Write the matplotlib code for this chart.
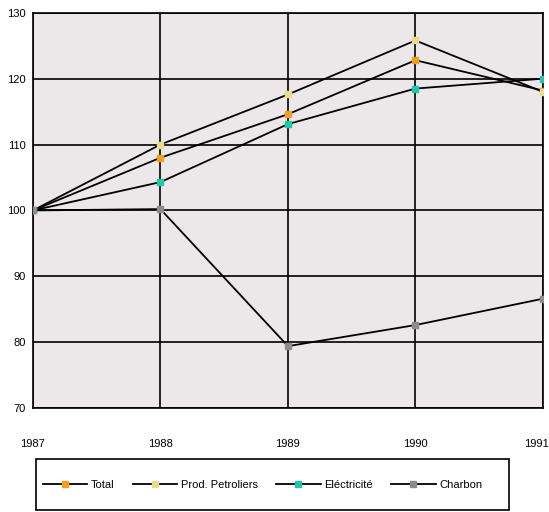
import matplotlib
matplotlib.use("Agg")
import matplotlib.pyplot as plt
import matplotlib.transforms as mtransforms
from matplotlib.patches import Rectangle

years = [1987, 1988, 1989, 1990, 1991]
total = [100, 108, 114.6, 122.8, 118.2]
prod_petroliers = [100, 110, 117.6, 125.8, 118.0]
electricite = [100, 104.3, 113.1, 118.5, 120.0]
charbon = [100, 100.2, 79.4, 82.6, 86.6]
series_names = ["Total", "Prod. Petroliers", "Eléctricité", "Charbon"]
yticks = [70, 80, 90, 100, 110, 120, 130]

plt.rcParams['font.family'] = ['Liberation Sans', 'DejaVu Sans']

fig = plt.figure(figsize=(5.49, 5.12), dpi=100)
ax = fig.add_axes([0.060, 0.203, 0.929, 0.772])
ax.set_facecolor('#ece8e9')

colors = ['#f0a020', '#e8dc90', '#20c8a8', '#8c8c8c']
data = [total, prod_petroliers, electricite, charbon]
for vals, name, c in zip(data, series_names, colors):
    ax.plot(years, vals, color='black', lw=1.3, marker='s', markersize=5,
            markerfacecolor=c, markeredgecolor=c, label=name, zorder=3)

ax.set_xlim(1987, 1991)
ax.set_ylim(70, 130)
ax.set_xticks(years)
ax.set_yticks(yticks)
ax.grid(True, color='black', lw=1.2)
ax.set_axisbelow(True)
for s in ax.spines.values():
    s.set_color('black')
    s.set_linewidth(1.2)
ax.tick_params(axis='x', length=0, pad=22, labelsize=8)
ax.tick_params(axis='y', length=0, pad=5, labelsize=8)

fig.canvas.draw()
last = ax.get_xticklabels()[-1]
last.set_horizontalalignment('right')
last.set_transform(last.get_transform() + mtransforms.ScaledTranslation(6/100, 0, fig.dpi_scale_trans))

# legend box
fig.patches.append(Rectangle((0.0656, 0.0039), 0.8616, 0.0996, transform=fig.transFigure,
                             fill=False, edgecolor='black', lw=1.2))
leg = fig.legend(loc='center left', bbox_to_anchor=(0.078, 0.0327, 0.80, 0.04),
                 mode='expand', ncol=4, frameon=False, fontsize=8,
                 handlelength=4.0, borderaxespad=0, borderpad=0,
                 handletextpad=0.3)

fig.savefig('out.png', dpi=100)
